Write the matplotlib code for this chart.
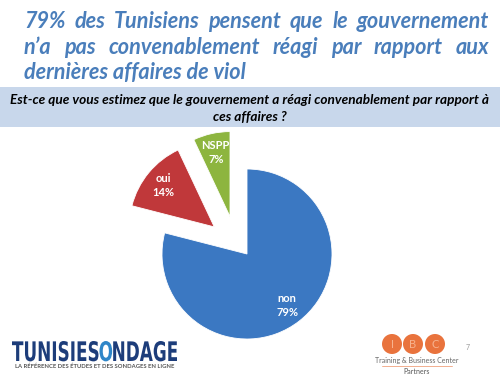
import matplotlib
matplotlib.use('Agg')
from matplotlib import pyplot as plt
from matplotlib.patches import Rectangle, Circle, PathPatch
from matplotlib.textpath import TextPath
from matplotlib.font_manager import FontProperties
from matplotlib.transforms import Affine2D

categories = ['non', 'oui', 'NSPP']
values = [79, 14, 7]
colors = ['#3b78c2', '#c0383a', '#8db53f']
explode = [0, 0.5, 0.46]

title_lines = ['79% des Tunisiens pensent que le gouvernement',
               'n’a pas convenablement réagi par rapport aux',
               'dernières affaires de viol']
question = ['Est-ce que vous estimez que le gouvernement a réagi convenablement par rapport à',
            'ces affaires ?']

plt.rcParams['font.family'] = ['Lato', 'DejaVu Sans']

fig = plt.figure(figsize=(5, 3.75), dpi=100)
bg = fig.add_axes([0, 0, 1, 1])
bg.set_xlim(0, 500)
bg.set_ylim(375, 0)
bg.axis('off')
renderer = fig.canvas.get_renderer()


def width_of(t):
    return t.get_window_extent(renderer).width


def fit(t, target):
    # scale the font so the text spans the target width in pixels
    t.set_fontsize(t.get_fontsize() * target / width_of(t))


# question band
bg.add_patch(Rectangle((0, 87), 500, 40, color='#c8d7eb', lw=0))
q_kw = dict(fontweight='bold', fontstyle='italic', color='black', ha='center', va='center')
q1 = bg.text(250, 100, question[0], fontsize=9, **q_kw)
fit(q1, 478)
bg.text(250, 117, question[1], fontsize=q1.get_fontsize(), **q_kw)

# title, justified like the slide
title_kw = dict(fontsize=15.6, fontweight='bold', fontstyle='italic', color='#4a7ebb', va='baseline')
baselines = [28, 54, 79]
left, right = 24, 489
for i, line in enumerate(title_lines):
    if i == len(title_lines) - 1:
        bg.text(left, baselines[i], line, **title_kw)
        continue
    words = line.split()
    texts = [bg.text(0, baselines[i], w, **title_kw) for w in words]
    widths = [width_of(t) for t in texts]
    gap = (right - left - sum(widths)) / (len(words) - 1)
    x = left
    for t, w in zip(texts, widths):
        t.set_x(x)
        x += w + gap

# pie
R = 85
cx, cy = 247, 254
ax = fig.add_axes([(cx - 1.6 * R) / 500, (375 - cy - 1.6 * R) / 375, 3.2 * R / 500, 3.2 * R / 375])
labels = [f'{c}\n{v}%' for c, v in zip(categories, values)]
wedges, texts = ax.pie(values, labels=labels, colors=colors, explode=explode, startangle=90,
                       counterclock=False, radius=1, labeldistance=0.77,
                       wedgeprops=dict(edgecolor='white', linewidth=0.6),
                       textprops=dict(color='white', fontsize=8, fontweight='bold'))
ax.set_xlim(-1.6, 1.6)
ax.set_ylim(-1.6, 1.6)
ax.axis('off')
for t in texts:
    t.set_ha('center')
    t.set_va('center')
    t.set_linespacing(1.3)
# the NSPP slice sits a bit further left on the slide
nx, ny = wedges[2].center
wedges[2].set_center((-0.2, 0.44))
tx, ty = texts[2].get_position()
texts[2].set_position((tx - 0.2 - nx, ty + 0.44 - ny))

# TunisieSondage logo, drawn as condensed outlines
fp = FontProperties(family='DejaVu Sans', weight='bold')
parts = [('TUNISIES', '#1d3d7a'), ('O', '#2f86c8'), ('NDAGE', '#1d3d7a')]
paths = [TextPath((0, 0), p, size=1, prop=fp) for p, c in parts]
ext = [p.get_extents() for p in paths]
spacing = 0.06
total_w = sum(e.width for e in ext) + spacing * (len(ext) - 1)
cap_h = max(e.y1 for e in ext)
sx, sy = 165 / total_w, 20 / cap_h
x = 0
for (part, col), p, e in zip(parts, paths, ext):
    tr = Affine2D().translate(x - e.x0, 0).scale(sx, -sy).translate(12, 361)
    bg.add_patch(PathPatch(tr.transform_path(p), color=col, lw=0))
    x += e.width + spacing
tag = bg.text(95, 366, 'LA RÉFÉRENCE DES ÉTUDES ET DES SONDAGES EN LIGNE', fontsize=3,
              color='#555555', ha='center', va='center', fontweight='bold')
fit(tag, 158)

# IBC logo
for xc, letter in zip([392, 413, 435], ['I', 'B', 'C']):
    bg.add_patch(Circle((xc, 344), 10, color='#e9733d', lw=0))
    bg.text(xc, 344, letter, fontsize=8, color='#f7b38f', ha='center', va='center')
bg.text(417, 361, 'Training & Business Center', fontsize=5, color='#666666', ha='center', va='center')
bg.plot([382, 452], [366, 366], color='#e9733d', lw=0.4)
bg.text(417, 371, 'Partners', fontsize=5, color='#555555', ha='center', va='center')
bg.text(468, 348, '7', fontsize=5, color='#999999', ha='center', va='center')

fig.savefig('out.png', dpi=100)
